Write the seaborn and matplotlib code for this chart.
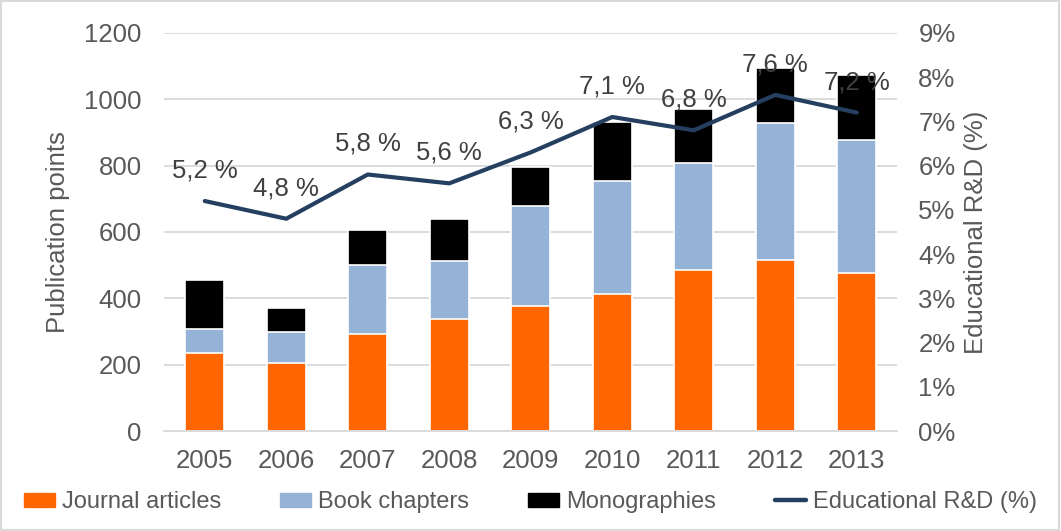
import numpy as np
import pandas as pd
import matplotlib
matplotlib.use("Agg")
import matplotlib.pyplot as plt
import matplotlib.patches as mpatches
from matplotlib.lines import Line2D
import seaborn as sns

# data
years = ["2005", "2006", "2007", "2008", "2009", "2010", "2011", "2012", "2013"]
journal = [236, 206, 292, 337, 378, 413, 485, 516, 475]
book = [73, 91, 208, 175, 301, 341, 322, 412, 402]
mono = [146, 73, 106, 126, 116, 178, 163, 167, 196]
rd_pct = [5.2, 4.8, 5.8, 5.6, 6.3, 7.1, 6.8, 7.6, 7.2]

df = pd.DataFrame({"year": years, "journal": journal, "book": book,
                   "mono": mono, "rd": rd_pct})
df["lvl2"] = df["journal"] + df["book"]
df["lvl3"] = df["lvl2"] + df["mono"]

sns.set_theme(style="white")
plt.rcParams["font.family"] = ["Liberation Sans", "DejaVu Sans"]

txt = "#595959"
c_orange = "#FF6600"
c_blue = "#95B3D7"
c_black = "#000000"
c_line = "#243F60"

fig = plt.figure(figsize=(10.61, 5.31), dpi=100)
ax = fig.add_axes([0.1546, 0.1883, 0.6913, 0.7496])

# stacked bars: draw cumulative totals from tallest to shortest
for col, c in [("lvl3", c_black), ("lvl2", c_blue), ("journal", c_orange)]:
    sns.barplot(data=df, x="year", y=col, color=c, width=0.48, ax=ax,
                edgecolor="white", linewidth=1.2, saturation=1, zorder=2)

ax.set_ylim(0, 1200)
ax.set_yticks(range(0, 1201, 200))
ax.yaxis.grid(True, color="#D9D9D9", linewidth=1.3, zorder=0)
ax.set_axisbelow(True)
for s in ["top", "right", "left"]:
    ax.spines[s].set_visible(False)
ax.spines["bottom"].set_color("#D9D9D9")
ax.spines["bottom"].set_linewidth(1.3)
ax.tick_params(axis="y", length=0, pad=16, labelsize=18.5, labelcolor=txt)
ax.tick_params(axis="x", length=0, pad=13, labelsize=18.5, labelcolor=txt)
ax.set_xlabel("")
ax.set_ylabel("Publication points", fontsize=18.5, color=txt, labelpad=10)

ax2 = ax.twinx()
sns.lineplot(data=df, x="year", y="rd", ax=ax2, color=c_line, linewidth=3.0,
             sort=False, solid_capstyle="round", zorder=5)
ax2.set_ylim(0, 9)
ax2.set_yticks(range(0, 10))
ax2.set_yticklabels([f"{i}%" for i in range(0, 10)])
for s in ax2.spines.values():
    s.set_visible(False)
ax2.tick_params(axis="y", length=0, pad=15, labelsize=18.5, labelcolor=txt)
ax2.set_ylabel("Educational R&D (%)", fontsize=18.5, color=txt, labelpad=6)
ax2.grid(False)
ax.set_xlim(-0.5, len(years) - 0.5)

for i, v in enumerate(rd_pct):
    ax2.annotate(f"{v:.1f} %".replace(".", ","), (i, v), xytext=(0, 22),
                 textcoords="offset points", ha="center", va="center",
                 fontsize=18.5, color="#404040", zorder=6)

handles = [mpatches.Patch(color=c_orange), mpatches.Patch(color=c_blue),
           mpatches.Patch(color=c_black),
           Line2D([0], [0], color=c_line, linewidth=3.2, solid_capstyle="round")]
labels = ["Journal articles", "Book chapters", "Monographies", "Educational R&D (%)"]
fig.legend(handles, labels, loc="center", bbox_to_anchor=(0.5, 0.054), ncol=4,
           frameon=False, fontsize=17, labelcolor=txt, handlelength=1.3,
           handleheight=0.6, handletextpad=0.3, columnspacing=2.5)

fig.patches.append(mpatches.Rectangle((0.001, 0.002), 0.997, 0.996,
                                      transform=fig.transFigure, fill=False,
                                      edgecolor="#D9D9D9", linewidth=1.5))

fig.savefig("out.png", dpi=100)
